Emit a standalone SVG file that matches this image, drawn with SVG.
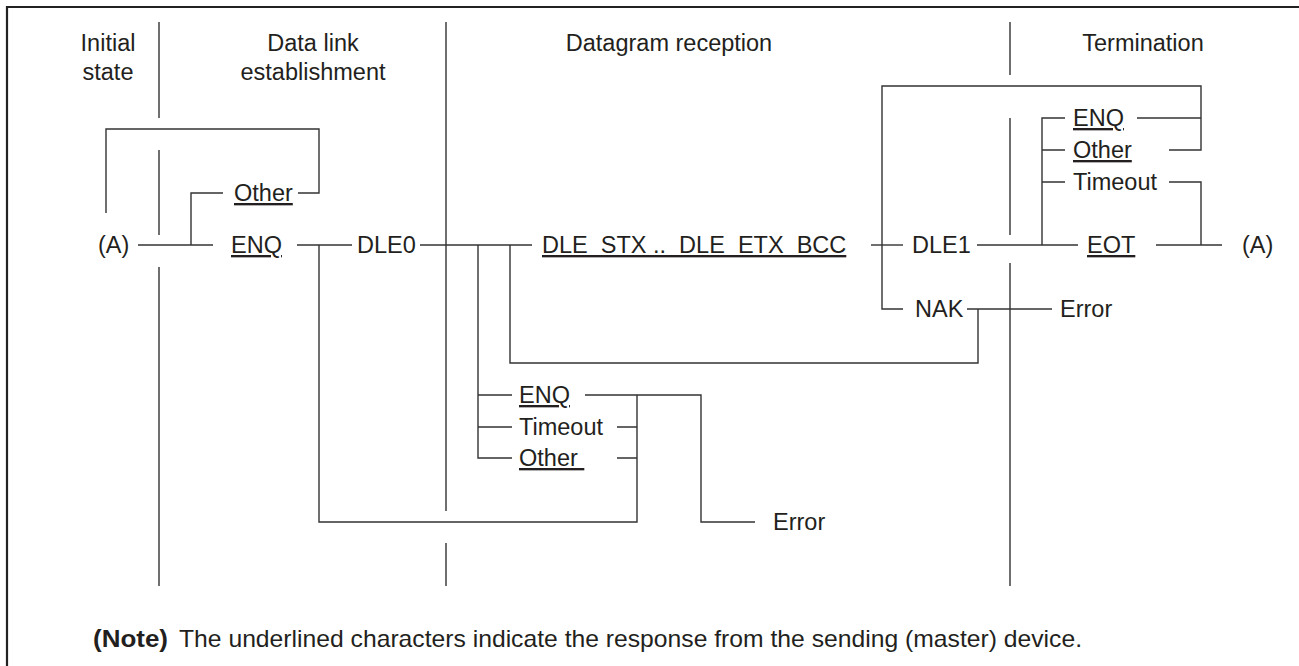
<svg xmlns="http://www.w3.org/2000/svg" width="1299" height="666" viewBox="0 0 1299 666">
<style>
text{font-family:"Liberation Sans",Arial,Helvetica,sans-serif;font-size:23.5px;fill:#231f20}
.c{text-anchor:middle}
.u{text-decoration:underline}
.ln{fill:none;stroke:#333;stroke-width:1.4}
.b{fill:none;stroke:#222;stroke-width:2.2}
.note{font-size:24px}
</style>
<rect width="1299" height="666" fill="#fff"/>
<path class="b" d="M7 680 V7 H1310"/>
<g id="dividers" class="ln">
<path d="M159 22 V118 M159 150 V235 M159 267 V586"/>
<path d="M446 22 V511 M446 543 V586"/>
<path d="M1010 22 V75 M1010 118 V235 M1010 263 V586"/>
</g>
<g id="headers">
<text class="c" x="108" y="51">Initial</text>
<text class="c" x="108" y="80">state</text>
<text class="c" x="313" y="51">Data link</text>
<text class="c" x="313" y="80">establishment</text>
<text class="c" x="669" y="51">Datagram reception</text>
<text class="c" x="1143" y="51">Termination</text>
</g>
<g id="connectors" class="ln">
<path d="M138 245 H213"/>
<path d="M191 245 V193 H223"/>
<path d="M298 193 H319 V129 H106 V213"/>
<path d="M297 245 H352"/>
<path d="M319 245 V522 H637 V395"/>
<path d="M420 245 H532"/>
<path d="M478 245 V458 H512 M478 395 H512 M478 427 H512"/>
<path d="M510 245 V363 H978 V309"/>
<path d="M585 395 H701 V522 H755"/>
<path d="M617 427 H637 M617 458 H637"/>
<path d="M871 245 H903"/>
<path d="M903 309 H882 V86 H1201 V150 H1169"/>
<path d="M1137 118 H1201"/>
<path d="M977 245 H1078"/>
<path d="M1042 245 V118 H1065 M1042 150 H1065 M1042 182 H1065"/>
<path d="M1169 182 H1201 V245"/>
<path d="M1156 245 H1222"/>
<path d="M967 309 H1052"/>
</g>
<g id="n-a-start"><text x="98" y="253">(A)</text></g>
<g id="n-other1"><text class="u" x="234" y="201">Other</text></g>
<g id="n-enq1"><text class="u" x="231" y="253">ENQ</text></g>
<g id="n-dle0"><text x="357" y="253">DLE0</text></g>
<g id="n-data"><text class="u" x="542" y="253" xml:space="preserve">DLE  STX ..  DLE  ETX  BCC</text></g>
<g id="n-dle1"><text x="912" y="253">DLE1</text></g>
<g id="n-nak"><text x="915" y="317">NAK</text></g>
<g id="n-error1"><text x="1060" y="317">Error</text></g>
<g id="n-enq3"><text class="u" x="1073" y="126">ENQ</text></g>
<g id="n-other3"><text class="u" x="1073" y="158">Other</text></g>
<g id="n-timeout3"><text x="1073" y="190">Timeout</text></g>
<g id="n-eot"><text class="u" x="1087" y="253">EOT</text></g>
<g id="n-a-end"><text x="1242" y="253">(A)</text></g>
<g id="n-enq2"><text class="u" x="519" y="403">ENQ</text></g>
<g id="n-timeout2"><text x="519" y="435">Timeout</text></g>
<g id="n-other2"><text class="u" x="519" y="466" xml:space="preserve">Other&#160;</text></g>
<g id="n-error2"><text x="773" y="530">Error</text></g>
<g id="note">
<text class="note" x="93" y="647" font-weight="bold" textLength="75" lengthAdjust="spacingAndGlyphs">(Note)</text>
<text class="note" x="179" y="647" textLength="903" lengthAdjust="spacingAndGlyphs">The underlined characters indicate the response from the sending (master) device.</text>
</g>
</svg>
